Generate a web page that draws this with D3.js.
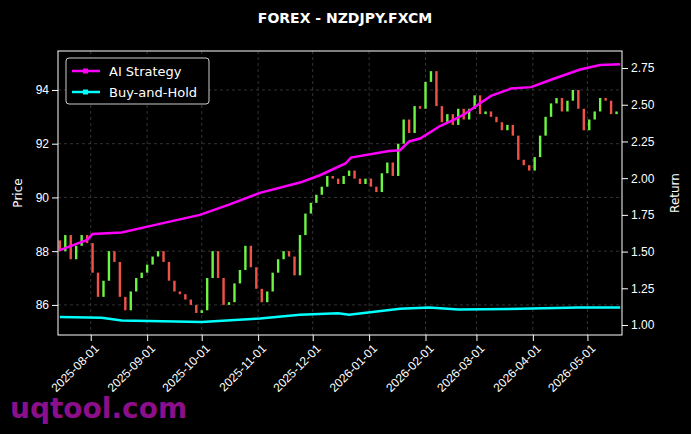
<!DOCTYPE html>
<html><head><meta charset="utf-8">
<script src="https://cdn.jsdelivr.net/npm/d3@7"></script>
<style>body{margin:0;background:#000;}svg{font-family:"DejaVu Sans",sans-serif;}</style>
</head><body><div id="chart"></div>
<script>
var svgWidth = 691, svgHeight = 434;
var margin = {top: 51, right: 69, bottom: 99, left: 58};
var width = svgWidth - margin.left - margin.right;
var height = svgHeight - margin.top - margin.bottom;

// candle closes, one every 3 days from 2025-07-15
var startDate = "2025-07-15";
var closes = [88.0,88.6,87.7,88.2,88.6,88.3,87.2,86.3,86.9,88.0,87.6,86.3,85.8,86.5,87.0,87.2,87.5,87.8,88.0,87.6,
  86.9,86.5,86.4,86.2,86.0,85.7,85.8,87.0,88.0,87.0,86.0,86.1,86.8,87.3,88.2,87.4,86.6,86.1,86.5,87.2,
  87.7,88.0,87.8,87.1,88.6,89.4,89.8,90.1,90.4,90.8,90.7,90.5,90.8,91.0,90.7,90.5,90.7,90.4,90.2,90.9,
  91.3,90.8,92.0,92.9,92.4,93.4,93.3,94.3,94.7,93.4,92.8,93.1,92.7,93.3,92.9,93.3,93.8,93.1,93.2,93.0,
  92.8,92.5,92.7,92.3,91.4,91.2,91.0,91.5,92.3,93.0,93.5,93.7,93.2,93.6,94.0,93.3,92.5,92.9,93.2,93.7,
  93.6,93.1,93.2];
var firstOpen = 88.4;

var aiDates = ["2025-07-15","2025-07-30","2025-08-02","2025-08-18","2025-09-03","2025-09-30","2025-10-16","2025-11-02","2025-11-24","2025-12-05","2025-12-19","2025-12-22","2026-01-12","2026-01-18","2026-01-23","2026-01-29","2026-02-09","2026-02-17","2026-02-23","2026-03-03","2026-03-09","2026-03-20","2026-03-31","2026-04-11","2026-04-27","2026-05-08","2026-05-19"];
var aiValues = [1.51,1.58,1.62,1.63,1.675,1.75,1.82,1.90,1.97,2.02,2.10,2.14,2.185,2.19,2.25,2.27,2.355,2.40,2.44,2.51,2.56,2.61,2.62,2.67,2.74,2.77,2.775];

var bhDates = ["2025-07-15","2025-08-07","2025-08-18","2025-10-01","2025-11-02","2025-11-24","2025-12-15","2025-12-21","2026-01-18","2026-02-03","2026-02-19","2026-03-25","2026-04-26","2026-05-19"];
var bhValues = [1.055,1.05,1.03,1.02,1.045,1.07,1.08,1.07,1.11,1.12,1.105,1.11,1.12,1.12];

var xTicks = ["2025-08-01","2025-09-01","2025-10-01","2025-11-01","2025-12-01","2026-01-01","2026-02-01","2026-03-01","2026-04-01","2026-05-01"];
var priceTicks = [86,88,90,92,94];
var returnTicks = [1.00,1.25,1.50,1.75,2.00,2.25,2.50,2.75];

var parse = d3.timeParse("%Y-%m-%d");
var fmt = d3.timeFormat("%Y-%m-%d");
var t0 = parse(startDate);
var candles = closes.map((c, i) => ({
  date: d3.timeDay.offset(t0, i * 3),
  open: i === 0 ? firstOpen : closes[i - 1],
  close: c
}));

var svg = d3.select("#chart").append("svg").attr("width", svgWidth).attr("height", svgHeight);
var g = svg.append("g").attr("transform", `translate(${margin.left},${margin.top})`);

var x = d3.scaleTime().domain([parse("2025-07-14"), parse("2026-05-20")]).range([0, width]);
var y = d3.scaleLinear().domain([84.88, 95.45]).range([height, 0]);
var yR = d3.scaleLinear().domain([0.932, 2.866]).range([height, 0]);

// grid
g.append("g").selectAll("line").data(xTicks).enter().append("line")
  .attr("x1", d => x(parse(d))).attr("x2", d => x(parse(d))).attr("y1", 0).attr("y2", height)
  .attr("stroke", "#555").attr("stroke-dasharray", "3,3").attr("stroke-width", 0.6);
g.append("g").selectAll("line").data(priceTicks).enter().append("line")
  .attr("x1", 0).attr("x2", width).attr("y1", d => y(d)).attr("y2", d => y(d))
  .attr("stroke", "#555").attr("stroke-dasharray", "3,3").attr("stroke-width", 0.6);

// candles
g.append("g").selectAll("rect").data(candles).enter().append("rect")
  .attr("x", d => x(d.date) - 1.2).attr("width", 2.4)
  .attr("y", d => y(Math.max(d.open, d.close)))
  .attr("height", d => Math.max(1, Math.abs(y(d.open) - y(d.close))))
  .attr("fill", d => d.close >= d.open ? "#6cf542" : "#f0524a");

var ai = aiDates.map((d, i) => ({date: parse(d), v: aiValues[i]}));
var bh = bhDates.map((d, i) => ({date: parse(d), v: bhValues[i]}));
var line = d3.line().x(d => x(d.date)).y(d => yR(d.v));
g.append("path").datum(ai).attr("d", line).attr("fill", "none").attr("stroke", "#ff00ff").attr("stroke-width", 2.5);
g.append("path").datum(bh).attr("d", line).attr("fill", "none").attr("stroke", "#00ffff").attr("stroke-width", 2.5);

// axes
var xAxis = g.append("g").attr("transform", `translate(0,${height})`)
  .call(d3.axisBottom(x).tickValues(xTicks.map(parse)).tickFormat(fmt).tickSizeOuter(0));
xAxis.selectAll("text").attr("transform", "translate(-4,2)rotate(-45)").style("text-anchor", "end");
var yAxis = g.append("g").call(d3.axisLeft(y).tickValues(priceTicks).tickSizeOuter(0));
var yAxisR = g.append("g").attr("transform", `translate(${width},0)`)
  .call(d3.axisRight(yR).tickValues(returnTicks).tickFormat(d3.format(".2f")).tickSizeOuter(0));
[xAxis, yAxis, yAxisR].forEach(a => {
  a.selectAll("text").attr("fill", "#fff").style("font-size", "12px");
  a.selectAll("line").attr("stroke", "#fff");
  a.select(".domain").remove();
});
g.append("rect").attr("width", width).attr("height", height).attr("fill", "none").attr("stroke", "#fff").attr("stroke-width", 1);

svg.append("text").attr("x", 345).attr("y", 23).attr("text-anchor", "middle").attr("fill", "#fff")
  .style("font-size", "14px").style("font-weight", "bold").text("FOREX - NZDJPY.FXCM");
svg.append("text").attr("transform", "translate(22,193)rotate(-90)").attr("text-anchor", "middle")
  .attr("fill", "#fff").style("font-size", "12px").text("Price");
svg.append("text").attr("transform", "translate(679,193)rotate(-90)").attr("text-anchor", "middle")
  .attr("fill", "#fff").style("font-size", "12px").text("Return");

// legend
var leg = svg.append("g").attr("transform", "translate(66,58)");
leg.append("rect").attr("width", 143).attr("height", 46).attr("rx", 3).attr("fill", "#000")
  .attr("stroke", "#ccc").attr("stroke-width", 1);
[["AI Strategy", "#ff00ff"], ["Buy-and-Hold", "#00ffff"]].forEach((d, i) => {
  var yy = 13 + i * 21;
  leg.append("line").attr("x1", 6).attr("x2", 34).attr("y1", yy).attr("y2", yy).attr("stroke", d[1]).attr("stroke-width", 2.5);
  leg.append("rect").attr("x", 17).attr("y", yy - 2.5).attr("width", 5).attr("height", 5).attr("fill", d[1]);
  leg.append("text").attr("x", 43).attr("y", yy + 4.5).attr("fill", "#fff").style("font-size", "13px").text(d[0]);
});

svg.append("text").attr("x", 10).attr("y", 418).attr("fill", "#9b119b").attr("opacity", 0.9)
  .style("font-size", "28px").style("font-weight", "bold").text("uqtool.com");
</script></body></html>
